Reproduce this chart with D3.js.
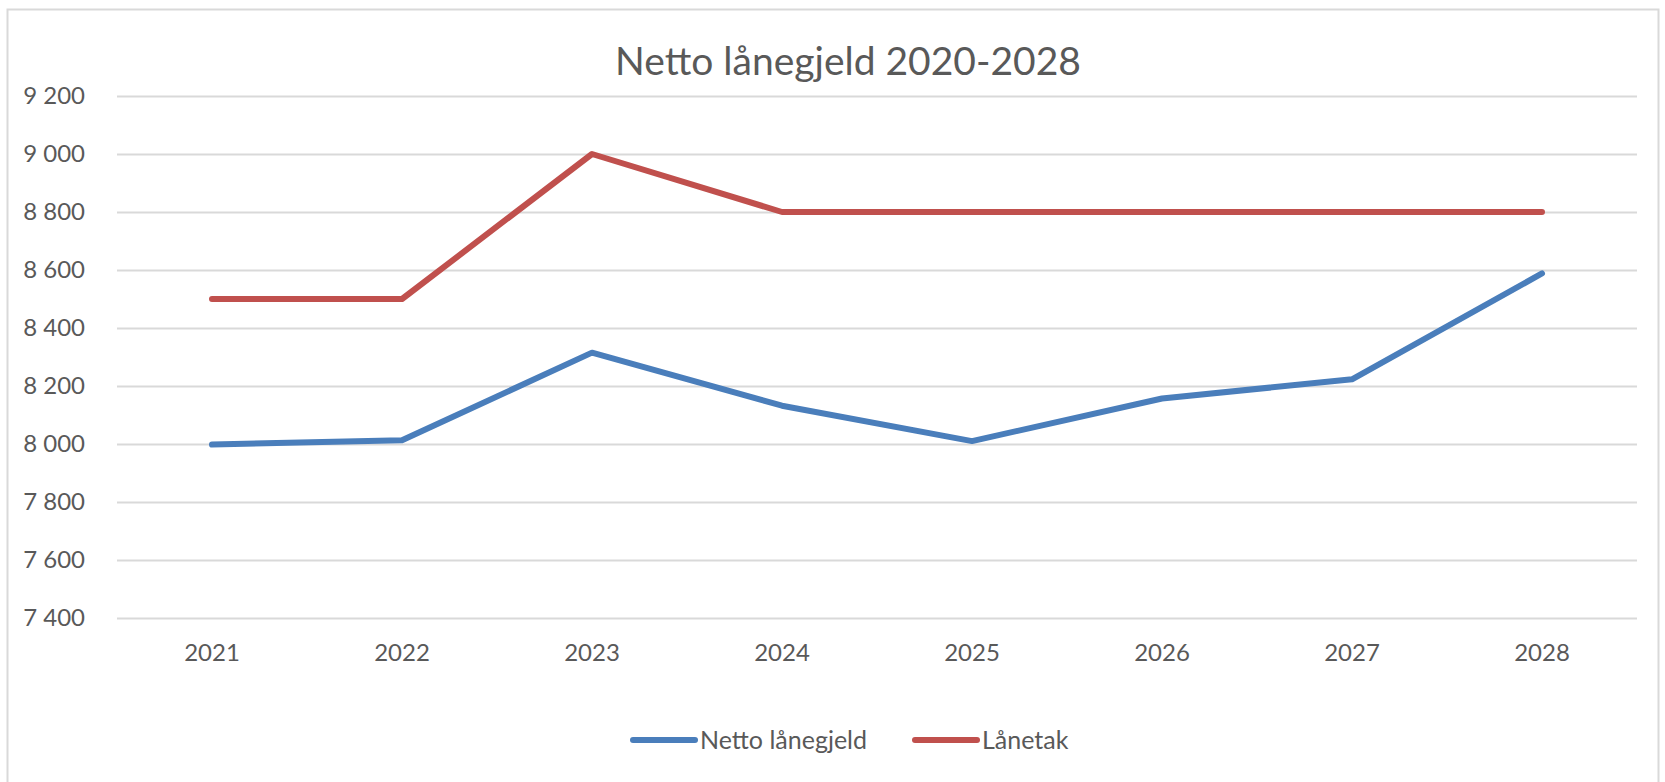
<!DOCTYPE html>
<html>
<head>
<meta charset="utf-8">
<script src="https://cdn.jsdelivr.net/npm/d3@7"></script>
<style>
  body { margin: 0; background: #fff; }
  svg text { font-family: Lato, "Open Sans", sans-serif; fill: #595959; }
</style>
</head>
<body>
<div id="chart"></div>
<script>
const years = ["2021", "2022", "2023", "2024", "2025", "2026", "2027", "2028"];
const nettoLanegjeld = [7998, 8013, 8315, 8132, 8010, 8157, 8223, 8588];
const lanetak = [8500, 8500, 9000, 8800, 8800, 8800, 8800, 8800];
const yTicks = [7400, 7600, 7800, 8000, 8200, 8400, 8600, 8800, 9000, 9200];
const seriesNames = ["Netto lånegjeld", "Lånetak"];
const colors = ["#4a7ebb", "#c0504d"];

const width = 1665, height = 782;
const plotLeft = 117, plotRight = 1637, plotTop = 96, plotBottom = 618;

const svg = d3.select("#chart").append("svg")
  .attr("width", width)
  .attr("height", height);

// chart frame
svg.append("rect")
  .attr("x", 7.5).attr("y", 9.5)
  .attr("width", 1651).attr("height", 800)
  .attr("fill", "none")
  .attr("stroke", "#d9d9d9")
  .attr("stroke-width", 2);

const x = d3.scaleBand().domain(years).range([plotLeft, plotRight]);
const y = d3.scaleLinear().domain([7400, 9200]).range([plotBottom, plotTop]);

// gridlines + y labels
const yAxis = d3.axisLeft(y)
  .tickValues(yTicks)
  .tickSize(-(plotRight - plotLeft))
  .tickPadding(32)
  .tickFormat(d => d3.format(",")(d).replace(",", " "));

const gy = svg.append("g")
  .attr("transform", `translate(${plotLeft},0)`)
  .call(yAxis);
gy.select(".domain").remove();
gy.selectAll(".tick line").attr("stroke", "#d9d9d9").attr("stroke-width", 2);
gy.selectAll(".tick text").attr("font-size", 24).style("fill", "#595959");

// x labels
const xAxis = d3.axisBottom(x).tickSize(0).tickPadding(26);
const gx = svg.append("g")
  .attr("transform", `translate(0,${plotBottom})`)
  .call(xAxis);
gx.select(".domain").remove();
gx.selectAll(".tick text").attr("font-size", 24).style("fill", "#595959");

const cx = d => x(d) + x.bandwidth() / 2;
const line = d3.line()
  .x((d, i) => cx(years[i]))
  .y(d => y(d));

[nettoLanegjeld, lanetak].forEach((s, i) => {
  svg.append("path")
    .datum(s)
    .attr("d", line)
    .attr("fill", "none")
    .attr("stroke", colors[i])
    .attr("stroke-width", 6)
    .attr("stroke-linejoin", "round")
    .attr("stroke-linecap", "round");
});

// title
svg.append("text")
  .attr("x", 848).attr("y", 75)
  .attr("text-anchor", "middle")
  .attr("font-size", 39)
  .text("Netto lånegjeld 2020-2028");

// legend
const legendX = [633, 915];
const legend = svg.append("g").selectAll("g")
  .data(seriesNames)
  .enter().append("g")
  .attr("transform", (d, i) => `translate(${legendX[i]},740)`);
legend.append("line")
  .attr("x1", 0).attr("x2", 62)
  .attr("stroke", (d, i) => colors[i])
  .attr("stroke-width", 6)
  .attr("stroke-linecap", "round");
legend.append("text")
  .attr("x", 67).attr("dy", "0.35em")
  .attr("font-size", 25)
  .text(d => d);
</script>
</body>
</html>
